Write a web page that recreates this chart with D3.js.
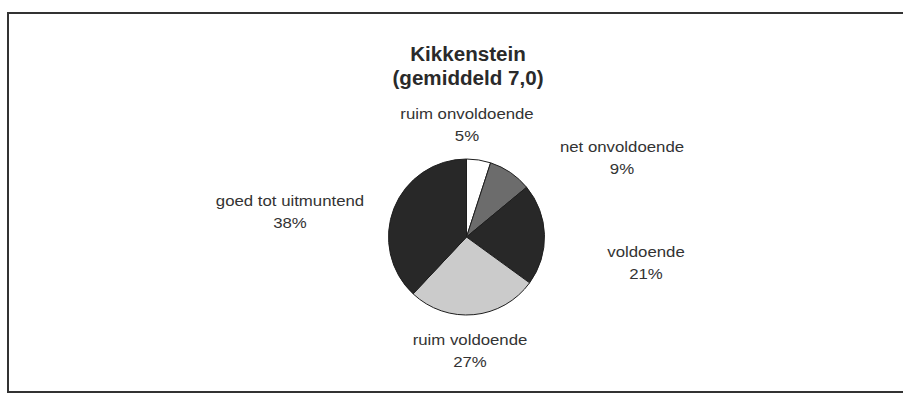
<!DOCTYPE html>
<html>
<head>
<meta charset="utf-8">
<script src="https://cdn.jsdelivr.net/npm/d3@7"></script>
<style>
  html, body { margin: 0; padding: 0; background: #fff; }
  svg { display: block; font-family: "Liberation Sans", Arial, sans-serif; }
</style>
</head>
<body>
<svg id="chart" width="903" height="401"></svg>
<script>
// Report-card distribution for Kikkenstein
const categories = ["ruim onvoldoende", "net onvoldoende", "voldoende", "ruim voldoende", "goed tot uitmuntend"];
const shares = [5, 9, 21, 27, 38];
const sliceColors = ["#ffffff", "#6c6c6c", "#282828", "#cbcbcb", "#282828"];
const titleLines = ["Kikkenstein", "(gemiddeld 7,0)"];
// Label anchors (centre x, baseline y of the category line)
const labelPos = [[467, 119], [622, 152], [646, 257], [470, 345], [290, 206]];

const svg = d3.select("#chart");
const sx = 1.12; // slightly wide lettering

// Frame (top, left and bottom rules)
const frame = svg.append("g").attr("stroke", "#333").attr("stroke-width", 2).attr("fill", "none");
frame.append("path").attr("d", "M8,393 L8,13 L903,13");
frame.append("line").attr("x1", 8).attr("y1", 392).attr("x2", 903).attr("y2", 392);

// Title
svg.append("g").selectAll("text").data(titleLines).join("text")
  .attr("transform", (d, i) => `translate(468,${61 + i * 24}) scale(1.03,1)`)
  .attr("text-anchor", "middle")
  .attr("font-size", 20).attr("font-weight", "bold").attr("fill", "#2a2a2a")
  .text(d => d);

// Pie
const cx = 466.5, cy = 237, r = 78;
const pie = d3.pie().sort(null).value(d => d)(shares);
const arc = d3.arc().innerRadius(0).outerRadius(r);
svg.append("g").attr("transform", `translate(${cx},${cy})`)
  .selectAll("path").data(pie).join("path")
  .attr("d", arc)
  .attr("fill", (d, i) => sliceColors[i])
  .attr("stroke", "#1e1e1e").attr("stroke-width", 1);

// Labels with category name and percentage
const labels = svg.append("g").attr("font-size", 15).attr("fill", "#333").attr("text-anchor", "middle");
categories.forEach((c, i) => {
  const [x, y] = labelPos[i];
  labels.append("text").attr("transform", `translate(${x},${y}) scale(${sx},1)`).text(c);
  labels.append("text").attr("transform", `translate(${x},${y + 22}) scale(${sx},1)`).text(shares[i] + "%");
});
</script>
</body>
</html>
